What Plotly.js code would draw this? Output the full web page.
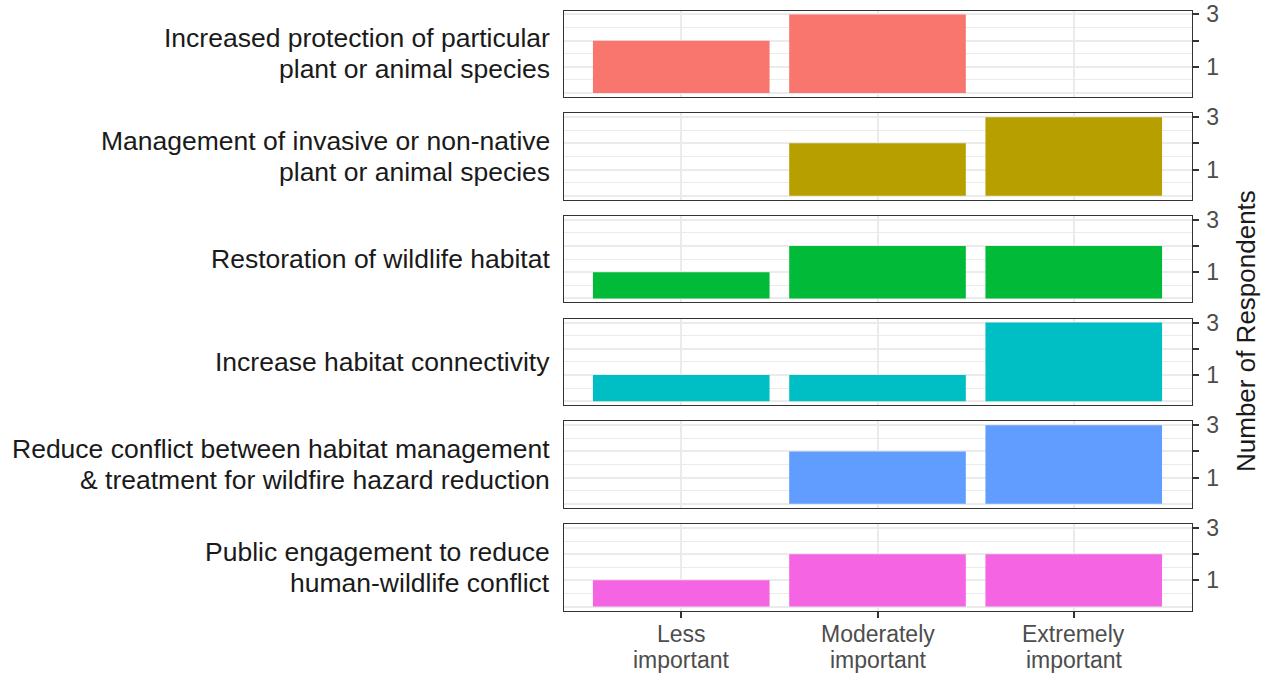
<!DOCTYPE html>
<html>
<head>
<meta charset="utf-8">
<script src="https://cdn.plot.ly/plotly-3.0.1.min.js"></script>
<style>
  html, body { margin: 0; padding: 0; background: #ffffff; }
  #chart { width: 1267px; height: 675px; }
</style>
</head>
<body>
<div id="chart"></div>
<script>
// ---- data ----
const facetLabels = [
  'Increased protection of particular<br>plant or animal species',
  'Management of invasive or non-native<br>plant or animal species',
  'Restoration of wildlife habitat',
  'Increase habitat connectivity',
  'Reduce conflict between habitat management<br>& treatment for wildfire hazard reduction',
  'Public engagement to reduce<br>human-wildlife conflict'
];
const categories = ['Less important', 'Moderately important', 'Extremely important'];
const categoryTickText = ['Less<br>important', 'Moderately<br>important', 'Extremely<br>important'];
const lessImportant       = [2, 0, 1, 1, 0, 1];
const moderatelyImportant = [3, 2, 2, 1, 2, 2];
const extremelyImportant  = [0, 3, 2, 3, 3, 2];
const yTickVals = [1, 2, 3];
const yTickText = ['1', '', '3'];
const yAxisTitle = 'Number of Respondents';

// ---- style ----
const palette = ['#F8766D', '#B79F00', '#00BA38', '#00BFC4', '#619CFF', '#F564E3'];
const W = 1267, H = 675;
const panelLeft = 563.5, panelRight = 1191.5;
const panelTop0 = 10.5, panelStep = 102.7, panelH = 86.5;
const FONT = 'Liberation Sans, Arial, Helvetica, sans-serif';
const stripLineGap = 31;   // px between lines of facet labels
const tickLineGap = 26;    // px between lines of x tick labels
const tickFirstLineY = 634;

const traces = [];
const layout = {
  width: W, height: H,
  margin: {l: 0, r: 0, t: 0, b: 0, pad: 0},
  paper_bgcolor: '#ffffff',
  plot_bgcolor: '#ffffff',
  showlegend: false,
  bargap: 0.1,
  font: {family: FONT, color: '#4D4D4D', size: 23},
  annotations: []
};

const n = facetLabels.length;
const lastK = String(n);
for (let i = 0; i < n; i++) {
  const k = i === 0 ? '' : String(i + 1);
  const top = panelTop0 + i * panelStep;
  const bottom = top + panelH;
  const yDom = [1 - bottom / H, 1 - top / H];
  const xDom = [panelLeft / W, panelRight / W];
  const isLast = i === n - 1;

  traces.push({
    type: 'bar',
    x: categories,
    y: [lessImportant[i], moderatelyImportant[i], extremelyImportant[i]],
    xaxis: 'x' + k,
    yaxis: 'y' + k,
    marker: {color: palette[i], line: {width: 0}},
    hoverinfo: 'x+y'
  });

  layout['xaxis' + k] = {
    domain: xDom,
    anchor: 'y' + k,
    type: 'category',
    categoryorder: 'array',
    categoryarray: categories,
    range: [-0.6, 2.6],
    tickvals: categories,
    showticklabels: false,
    ticks: isLast ? 'outside' : '',
    ticklen: 6,
    tickwidth: 2,
    tickcolor: '#333333',
    showgrid: true,
    gridcolor: '#EBEBEB',
    gridwidth: 2,
    zeroline: false,
    showline: true,
    mirror: true,
    linecolor: '#333333',
    linewidth: 1.3,
    fixedrange: true
  };

  layout['yaxis' + k] = {
    domain: yDom,
    anchor: 'x' + k,
    side: 'right',
    range: [-0.15, 3.15],
    tickmode: 'array',
    tickvals: yTickVals,
    ticktext: yTickText,
    ticks: 'outside',
    ticklen: 6,
    tickwidth: 2,
    tickcolor: '#333333',
    ticklabelstandoff: 3,
    tickfont: {family: FONT, size: 23, color: '#4D4D4D'},
    showgrid: true,
    gridcolor: '#EBEBEB',
    gridwidth: 2,
    minor: {
      tickmode: 'linear', tick0: 0, dtick: 0.5,
      showgrid: true, gridcolor: '#EBEBEB', gridwidth: 1, ticks: ''
    },
    zeroline: true,
    zerolinecolor: '#EBEBEB',
    zerolinewidth: 2,
    showline: true,
    mirror: true,
    linecolor: '#333333',
    linewidth: 1.3,
    fixedrange: true
  };

  // facet label, one annotation per line for ggplot-like line spacing
  const lines = facetLabels[i].split('<br>');
  const centre = top + panelH / 2;
  lines.forEach((ln, j) => {
    const yPx = centre + (j - (lines.length - 1) / 2) * stripLineGap;
    layout.annotations.push({
      xref: 'paper', yref: 'paper',
      x: panelLeft / W, y: 1 - yPx / H,
      xanchor: 'right', yanchor: 'middle',
      xshift: -12,
      align: 'right',
      showarrow: false,
      text: ln,
      font: {family: FONT, size: 26.5, color: '#1A1A1A'}
    });
  });
}

// x tick labels of the bottom panel (two lines each)
categories.forEach((c, ci) => {
  categoryTickText[ci].split('<br>').forEach((ln, j) => {
    layout.annotations.push({
      xref: 'x' + lastK, yref: 'paper',
      x: c, y: 1 - (tickFirstLineY + j * tickLineGap) / H,
      xanchor: 'center', yanchor: 'middle',
      showarrow: false,
      text: ln,
      font: {family: FONT, size: 23, color: '#4D4D4D'}
    });
  });
});

layout.annotations.push({
  xref: 'paper', yref: 'paper',
  x: 1246 / W, y: 1 - 331 / H,
  xanchor: 'center', yanchor: 'middle',
  textangle: -90,
  showarrow: false,
  text: yAxisTitle,
  font: {family: FONT, size: 26, color: '#1A1A1A'}
});

Plotly.newPlot('chart', traces, layout, {displayModeBar: false});
</script>
</body>
</html>
